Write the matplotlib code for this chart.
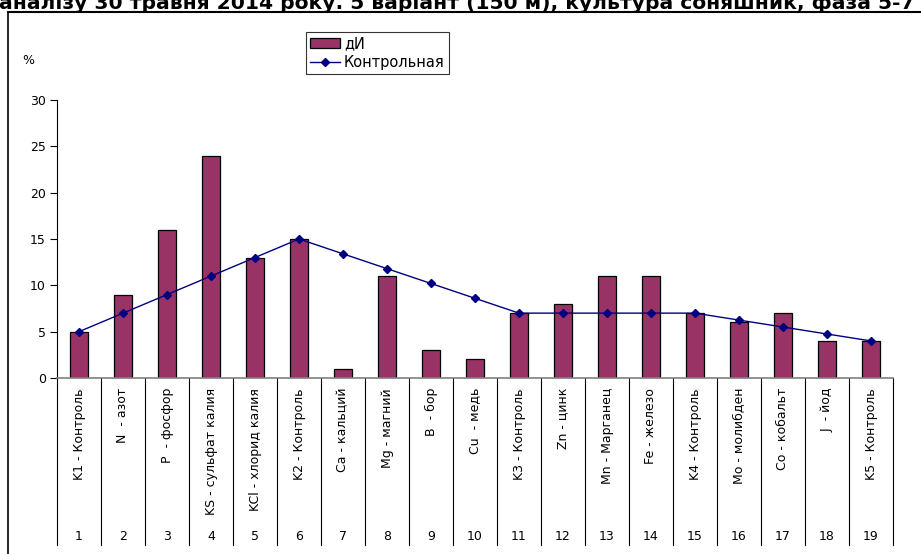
import matplotlib
matplotlib.use('Agg')
import matplotlib.pyplot as plt
from matplotlib.transforms import blended_transform_factory
from matplotlib.lines import Line2D

plt.rcParams['font.family'] = ['DejaVu Sans']

# test variants along the x axis
variants = ['K1 - Контроль', 'N  - азот', 'P  - фосфор', 'KS - сульфат калия',
            'KCl - хлорид калия', 'K2 - Контроль', 'Ca - кальций', 'Mg - магний',
            'B  - бор', 'Cu  - медь', 'K3 - Контроль', 'Zn - цинк',
            'Mn - Марганец', 'Fe - железо', 'K4 - Контроль', 'Mo - молибден',
            'Co - кобальт', 'J  - йод', 'K5 - Контроль']
numbers = [str(i) for i in range(1, 20)]

di_values = [5, 9, 16, 24, 13, 15, 1, 11, 3, 2, 7, 8, 11, 11, 7, 6, 7, 4, 4]
control_values = [5, 7, 9, 11, 13, 15, 13.4, 11.8, 10.2, 8.6, 7, 7, 7, 7, 7,
                  6.25, 5.5, 4.75, 4]

title = 'аналізу 30 травня 2014 року. 5 варіант (150 м), культура соняшник, фаза 5-7'

W, H = 921, 554
fig = plt.figure(figsize=(W / 100, H / 100), dpi=100)

# outer chart frame (runs off the right and bottom edges)
fig.add_artist(Line2D([8 / W, 8 / W], [0, 1 - 12 / H], color='black', lw=1.2))
fig.add_artist(Line2D([8 / W, 1], [1 - 12 / H, 1 - 12 / H], color='black', lw=1.5))

fig.text(-1 / W, 1 - 9 / H, title, fontsize=14.6, fontweight='bold',
         ha='left', va='baseline')

x0, x1, y0, y1 = 57, 893, 378, 100
ax = fig.add_axes([x0 / W, 1 - y0 / H, (x1 - x0) / W, (y0 - y1) / H])

n = len(variants)
xs = list(range(1, n + 1))
bars = ax.bar(xs, di_values, width=0.41, color='#993366', edgecolor='black',
              linewidth=0.9, label='дИ', zorder=2)
line, = ax.plot(xs, control_values, color='#000080', lw=1, marker='D',
                markersize=4.5, label='Контрольная', zorder=3)

ax.set_xlim(0.5, n + 0.5)
ax.set_ylim(0, 30)
ax.set_yticks(range(0, 31, 5))
ax.tick_params(axis='y', direction='out', length=5, width=0.8, labelsize=9, pad=3)
ax.set_xticks([])
for s in ['top', 'right']:
    ax.spines[s].set_visible(False)
ax.spines['left'].set_linewidth(0.8)
ax.spines['bottom'].set_color('#808080')
ax.spines['bottom'].set_linewidth(1.2)

# category table below the axis: separators, variant names, numbers
trans = blended_transform_factory(ax.transData, ax.transAxes)
span = y0 - y1
for k in range(n + 1):
    ax.plot([k + 0.5, k + 0.5], [0, -(545 - y0) / span], color='black', lw=0.8,
            transform=trans, clip_on=False)
for x, name, num in zip(xs, variants, numbers):
    ax.text(x, -(388 - y0) / span, name, transform=trans, rotation=90,
            ha='center', va='top', fontsize=9)
    ax.text(x, -(536 - y0) / span, num, transform=trans,
            ha='center', va='center', fontsize=9)

fig.text(28 / W, 1 - 60 / H, '%', fontsize=9, ha='center', va='center')

leg = fig.legend([bars, line], ['дИ', 'Контрольная'], loc='upper left',
                 bbox_to_anchor=(306 / W, 1 - 32 / H),
                 fontsize=10.5, frameon=True, fancybox=False, borderpad=0.3,
                 handlelength=2.0, labelspacing=0.25, handletextpad=0.3,
                 borderaxespad=0)
leg.get_frame().set_edgecolor('black')
leg.get_frame().set_linewidth(0.8)

fig.savefig('out.png', dpi=100)
